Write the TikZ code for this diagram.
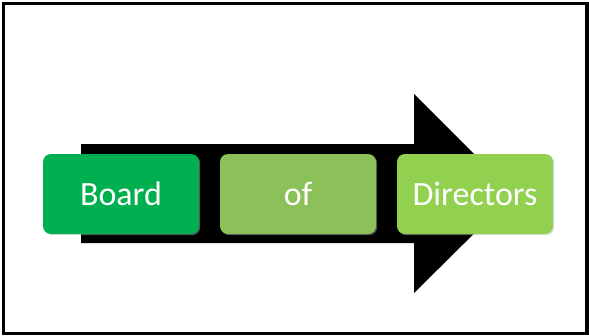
\documentclass[tikz,border=0pt]{standalone}
\usepackage{fontspec}
\setmainfont{Carlito}
\definecolor{gA}{HTML}{00B050}
\definecolor{gB}{HTML}{8BC158}
\definecolor{gC}{HTML}{92D050}
\tikzset{
  stepbox/.style={rounded corners=8pt, minimum height=80pt, inner sep=0pt, text=white,
    font=\fontsize{34}{40}\selectfont},
  boxshadow/.style={fill=black!30, opacity=0.45, rounded corners=8pt}
}
\begin{document}
\begin{tikzpicture}[x=1pt,y=-1pt]
\useasboundingbox (0,0) rectangle (589,335);
\draw[line width=3.2pt] (3.3,3.3) rectangle (587,333.5);
% big arrow
\fill[black] (81,144) -- (414,144) -- (414,94) -- (514,194) -- (414,293) -- (414,243) -- (81,243) -- cycle;
% shadows
\fill[boxshadow] (44.2,155.2) rectangle (200.2,235.2);
\fill[boxshadow] (221.2,155.2) rectangle (377.2,235.2);
\fill[boxshadow] (398.2,155.2) rectangle (554.2,235.2);
% boxes
\node[stepbox, fill=gA, minimum width=156pt] (b1) at (121,194) {Board};
\node[stepbox, fill=gB, minimum width=156pt] (b2) at (298,194) {of};
\node[stepbox, fill=gC, minimum width=156pt] (b3) at (475,194) {Directors};
\end{tikzpicture}
\end{document}
